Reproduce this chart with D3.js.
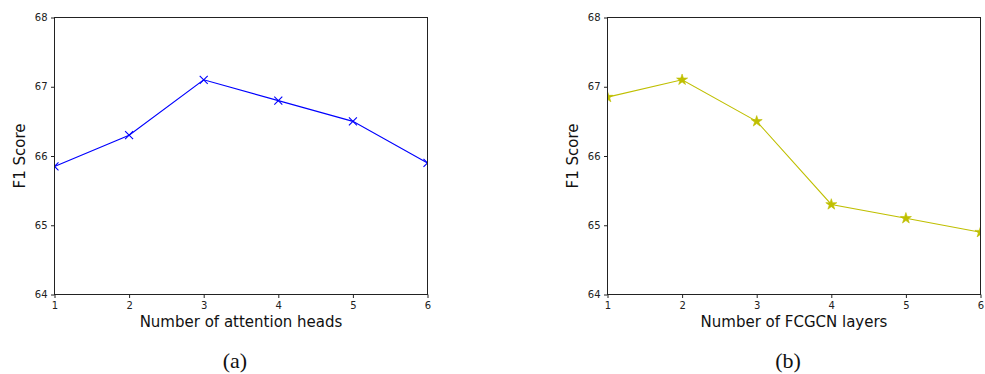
<meta charset="utf-8">
<script src="https://d3js.org/d3.v7.min.js"></script>
<style>
body { margin: 0; background: #fff; }
.axis text { font-family: "DejaVu Sans", sans-serif; font-size: 10px; fill: #222; }
.axis path, .axis line { stroke: #222; stroke-width: 1; }
</style>
<body>
<script>
// data
var steps = [1, 2, 3, 4, 5, 6];
var headsF1 = [65.85, 66.3, 67.1, 66.8, 66.5, 65.9];
var layersF1 = [66.85, 67.1, 66.5, 65.3, 65.1, 64.9];
var yTicks = [64, 65, 66, 67, 68];

var svg = d3.select("body").append("svg")
    .attr("width", 985)
    .attr("height", 374);

var plotTop = 17.5, plotBottom = 294.5;

function panel(id, left, right, values, color, marker, xlabel, caption) {
    var x = d3.scaleLinear().domain([1, 6]).range([left, right]);
    var y = d3.scaleLinear().domain([64, 68]).range([plotBottom, plotTop]);

    svg.append("clipPath").attr("id", id)
        .append("rect")
        .attr("x", left).attr("y", plotTop)
        .attr("width", right - left).attr("height", plotBottom - plotTop);

    var g = svg.append("g").attr("clip-path", "url(#" + id + ")");

    var line = d3.line()
        .x(function(d, i) { return x(steps[i]); })
        .y(function(d) { return y(d); });

    g.append("path")
        .datum(values)
        .attr("d", line)
        .attr("fill", "none")
        .attr("stroke", color)
        .attr("stroke-width", 1.1);

    if (marker == "x") {
        g.selectAll(".mk").data(values).enter().append("path")
            .attr("transform", function(d, i) { return "translate(" + x(steps[i]) + "," + y(d) + ")"; })
            .attr("d", "M-4,-4L4,4M-4,4L4,-4")
            .attr("stroke", color)
            .attr("stroke-width", 1.1);
    } else {
        g.selectAll(".mk").data(values).enter().append("path")
            .attr("transform", function(d, i) { return "translate(" + x(steps[i]) + "," + y(d) + ")"; })
            .attr("d", d3.symbol().type(d3.symbolStar).size(38))
            .attr("fill", color)
            .attr("stroke", color)
            .attr("stroke-width", 0.6);
    }

    // frame
    svg.append("rect")
        .attr("x", left).attr("y", plotTop)
        .attr("width", right - left).attr("height", plotBottom - plotTop)
        .attr("fill", "none")
        .attr("stroke", "#222")
        .attr("stroke-width", 1);

    svg.append("g")
        .attr("class", "axis")
        .attr("transform", "translate(0," + plotBottom + ")")
        .call(d3.axisBottom(x).tickValues(steps).tickFormat(d3.format("d")).tickSize(3.5).tickPadding(3.5))
        .select(".domain").remove();

    svg.append("g")
        .attr("class", "axis")
        .attr("transform", "translate(" + left + ",0)")
        .call(d3.axisLeft(y).tickValues(yTicks).tickFormat(d3.format("d")).tickSize(3.5).tickPadding(3.5))
        .select(".domain").remove();

    svg.append("text")
        .attr("x", (left + right) / 2)
        .attr("y", 327)
        .attr("text-anchor", "middle")
        .attr("font-family", "DejaVu Sans, sans-serif")
        .attr("font-size", "15px")
        .attr("fill", "#111")
        .text(xlabel);

    svg.append("text")
        .attr("transform", "translate(" + (left - 29.5) + "," + ((plotTop + plotBottom) / 2) + ") rotate(-90)")
        .attr("text-anchor", "middle")
        .attr("font-family", "DejaVu Sans, sans-serif")
        .attr("font-size", "15px")
        .attr("fill", "#111")
        .text("F1 Score");

    svg.append("text")
        .attr("x", (left + right) / 2 - 6)
        .attr("y", 368)
        .attr("text-anchor", "middle")
        .attr("font-family", "Liberation Serif, serif")
        .attr("font-size", "22px")
        .attr("fill", "#111")
        .text(caption);
}

panel("clipA", 54.5, 427.5, headsF1, "#0000ff", "x", "Number of attention heads", "(a)");
panel("clipB", 607.5, 980.5, layersF1, "#bfbf00", "star", "Number of FCGCN layers", "(b)");
</script>
</body>
